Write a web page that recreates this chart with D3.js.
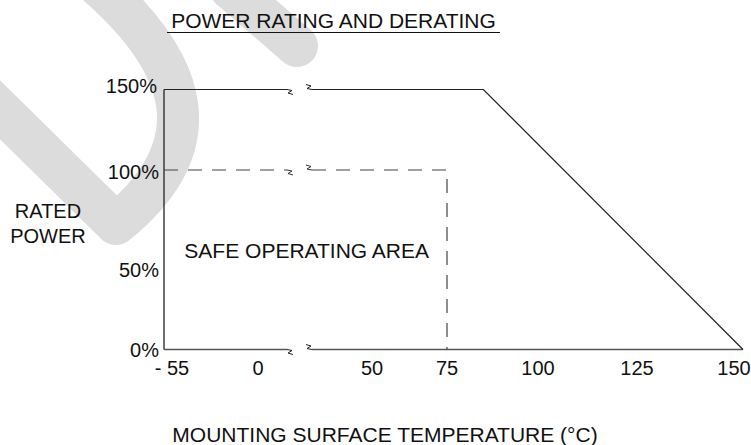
<!DOCTYPE html>
<html><head><meta charset="utf-8">
<script src="https://cdn.jsdelivr.net/npm/d3@7"></script>
<style>body{margin:0;background:#fff}svg{display:block}text{font-family:"Liberation Sans",Arial,sans-serif;fill:#111}</style>
</head><body><div id="c"></div>
<script>
// ---- data ----
const title = "POWER RATING AND DERATING";
const xTitle = "MOUNTING SURFACE TEMPERATURE (°C)";
const yTitleLines = ["RATED", "POWER"];
const areaLabel = "SAFE OPERATING AREA";
const xTicks = [-55, 0, 50, 75, 100, 125, 150];
const xTickLabels = ["- 55", "0", "50", "75", "100", "125", "150"];
const yTicks = [0, 50, 100, 150];
const yTickLabels = ["0%", "50%", "100%", "150%"];
// maximum (150 %) curve: temperature, % rated power
const maxCurve = [[-55, 150], [85, 150], [150, 0]];
// rated (100 %) safe operating boundary
const ratedCurve = [[-55, 100], [75, 100], [75, 0]];
const breakAt = [10, 25]; // axis break (schematic, not to scale)

const W = 751, H = 445;
const svg = d3.select("#c").append("svg").attr("width", W).attr("height", H);

// watermark
const wm = svg.append("g").attr("fill", "none").attr("stroke", "#dcdcdc")
  .attr("stroke-width", 42).attr("stroke-linecap", "round").attr("stroke-linejoin", "round");
wm.append("path").attr("d", "M -25,85 L 116,224 C 207,150 197,70 92,-20");
wm.append("path").attr("d", "M 230,-12 L 297,46");

// schematic (non-uniform) scales, as in the drawing
const x = d3.scaleLinear().domain([-55, 0, 10, 25, 50, 75, 100, 125, 150])
  .range([164, 258, 287, 312, 372, 447, 538, 637, 743]);
const y = d3.scaleLinear().domain([0, 50, 100, 150]).range([349.5, 269.5, 170, 89.5]);

const line = d3.line().x(d => x(d[0])).y(d => y(d[1]));

// split a curve at the axis break
function splitAtBreak(pts) {
  const left = [], right = [];
  for (const p of pts) {
    if (p[0] <= breakAt[0]) left.push(p); else right.push(p);
  }
  const yv = pts[0][1];
  left.push([breakAt[0], yv]);
  right.unshift([breakAt[1], yv]);
  return [left, right];
}

// small "z" shaped break glyphs
function breakMark(g, xv, yv, second, color) {
  const bx = x(xv), by = y(yv);
  const d = second
    ? `M${bx},${by} L${bx - 5},${by - 1} L${bx - 1},${by - 3.5} L${bx - 6},${by - 5}`
    : `M${bx},${by} L${bx + 5},${by + 1} L${bx + 1},${by + 3.5} L${bx + 6},${by + 5}`;
  g.append("path").attr("d", d).attr("fill", "none").attr("stroke", color)
    .attr("stroke-width", 1).attr("stroke-linejoin", "round");
}

const g = svg.append("g");

// y axis line
g.append("line").attr("x1", x(-55)).attr("x2", x(-55)).attr("y1", y(150)).attr("y2", y(0))
  .attr("stroke", "#222").attr("stroke-width", 1.3);

// x axis (0 %)
splitAtBreak([[-55, 0], [150, 0]]).forEach(seg => g.append("path").attr("d", line(seg))
  .attr("fill", "none").attr("stroke", "#555").attr("stroke-width", 1.3));
breakMark(g, breakAt[0], 0, false, "#222");
breakMark(g, breakAt[1], 0, true, "#222");

// max curve
splitAtBreak(maxCurve).forEach(seg => g.append("path").attr("d", line(seg))
  .attr("fill", "none").attr("stroke", "#222").attr("stroke-width", 1.2));
breakMark(g, breakAt[0], 150, false, "#222");
breakMark(g, breakAt[1], 150, true, "#222");

// rated curve (dashed)
splitAtBreak(ratedCurve).forEach(seg => g.append("path").attr("d", line(seg))
  .attr("fill", "none").attr("stroke", "#444").attr("stroke-width", 1.2)
  .attr("stroke-dasharray", "14,10"));
breakMark(g, breakAt[0], 100, false, "#333");
breakMark(g, breakAt[1], 100, true, "#333");

// y tick labels
const yOff = {0: 0, 50: 0, 100: 2, 150: -3.5};
yTicks.forEach((v, i) => g.append("text").attr("x", v === 150 ? 157 : 159).attr("y", y(v) + yOff[v])
  .attr("text-anchor", "end").attr("dominant-baseline", "central").attr("font-size", 20)
  .text(yTickLabels[i]));

// x tick labels
const xOff = {"-55": 8, "150": -9};
xTicks.forEach((v, i) => g.append("text").attr("x", x(v) + (xOff[v] || 0)).attr("y", 375)
  .attr("text-anchor", "middle").attr("font-size", 20).text(xTickLabels[i]));

// titles
svg.append("text").attr("x", 333.5).attr("y", 28).attr("text-anchor", "middle")
  .attr("font-size", 21).text(title);
svg.append("line").attr("x1", 167).attr("x2", 500).attr("y1", 32.5).attr("y2", 32.5)
  .attr("stroke", "#111").attr("stroke-width", 1);
yTitleLines.forEach((t, i) => svg.append("text").attr("x", 48).attr("y", 218 + i * 25)
  .attr("text-anchor", "middle").attr("font-size", 20).text(t));
svg.append("text").attr("x", 385).attr("y", 442).attr("text-anchor", "middle")
  .attr("font-size", 21).text(xTitle);
svg.append("text").attr("x", 306.7).attr("y", 258).attr("text-anchor", "middle")
  .attr("font-size", 21).text(areaLabel);
</script></body></html>
